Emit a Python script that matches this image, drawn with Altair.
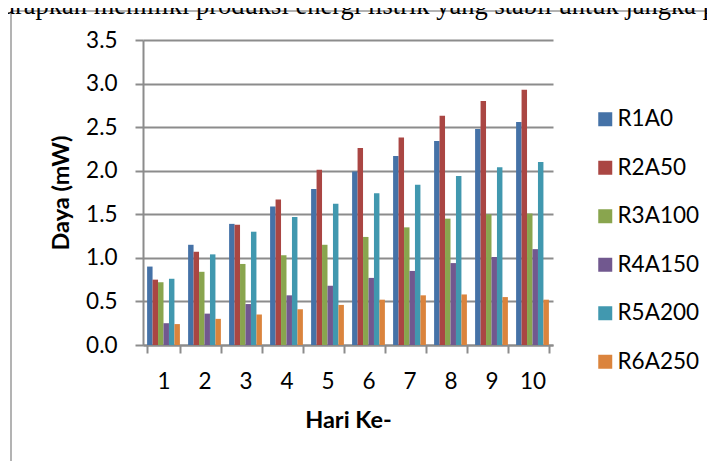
import altair as alt
import pandas as pd

days = ["1", "2", "3", "4", "5", "6", "7", "8", "9", "10"]
series = ["R1A0", "R2A50", "R3A100", "R4A150", "R5A200", "R6A250"]
R1A0 = [0.90, 1.15, 1.39, 1.59, 1.79, 1.99, 2.17, 2.34, 2.48, 2.56]
R2A50 = [0.75, 1.07, 1.38, 1.67, 2.01, 2.26, 2.38, 2.63, 2.80, 2.93]
R3A100 = [0.72, 0.84, 0.93, 1.03, 1.15, 1.24, 1.35, 1.45, 1.50, 1.51]
R4A150 = [0.25, 0.36, 0.47, 0.57, 0.68, 0.77, 0.85, 0.94, 1.01, 1.10]
R5A200 = [0.76, 1.04, 1.30, 1.47, 1.62, 1.74, 1.84, 1.94, 2.04, 2.10]
R6A250 = [0.24, 0.30, 0.35, 0.41, 0.46, 0.52, 0.57, 0.58, 0.55, 0.52]
colors = ["#4572A7", "#AA4643", "#89A54E", "#71588F", "#4198AF", "#DB843D"]
y_ticks = [0.0, 0.5, 1.0, 1.5, 2.0, 2.5, 3.0, 3.5]
top_text = "harapkan memiliki produksi energi listrik yang stabil untuk jangka p"

values = [R1A0, R2A50, R3A100, R4A150, R5A200, R6A250]
rows = []
for s, vals in zip(series, values):
    for d, v in zip(days, vals):
        rows.append({"day": d, "series": s, "value": v})
df = pd.DataFrame(rows)

FONT = "Lato"
GRAY = "#8c8c8c"
LBL = 22.5
TTL = 23.5

bars = alt.Chart(df).mark_bar().encode(
    x=alt.X("day:N", sort=days,
            scale=alt.Scale(paddingInner=0.2, paddingOuter=0.1),
            axis=alt.Axis(title="Hari Ke-", labelAngle=0, tickBand="extent", grid=False,
                          tickSize=8, labelPadding=17, labelFontSize=LBL, labelFont=FONT,
                          labelColor="black", titleFont=FONT, titleFontSize=TTL,
                          titleFontWeight="bold", titleColor="black",
                          titleX=205, titleY=82, titleBaseline="alphabetic", titleAlign="center")),
    xOffset=alt.XOffset("series:N", sort=series, scale=alt.Scale(paddingInner=0, paddingOuter=0)),
    y=alt.Y("value:Q", scale=alt.Scale(domain=[0, 3.5], nice=False),
            axis=alt.Axis(title="Daya (mW)", values=y_ticks, format=".1f", tickSize=8,
                          labelPadding=18, labelFontSize=LBL, labelFont=FONT, labelColor="black",
                          titleFont=FONT, titleFontSize=TTL, titleFontWeight="bold",
                          titleColor="black", titleX=-75, titleY=152.5,
                          titleBaseline="alphabetic", titleAlign="center")),
    color=alt.Color("series:N", sort=series,
                    scale=alt.Scale(domain=series, range=colors),
                    legend=alt.Legend(title=None, orient="none", legendX=451, legendY=68,
                                      symbolType="square", symbolSize=196, symbolStrokeWidth=0,
                                      labelFont=FONT, labelFontSize=LBL, labelColor="black",
                                      labelOffset=1, rowPadding=25.5, padding=0)),
)

one = pd.DataFrame({"a": [0]})
frame_v = alt.Chart(one).mark_rule(color="#9a9a9a", strokeWidth=1.5).encode(
    x=alt.value(-132), y=alt.value(-29), y2=alt.value(500))
frame_h = alt.Chart(one).mark_rule(color="#9a9a9a", strokeWidth=1.5).encode(
    x=alt.value(-132), x2=alt.value(700), y=alt.value(-29))
head = alt.Chart(pd.DataFrame({"t": [top_text]})).mark_text(
    align="left", baseline="alphabetic", font="Liberation Serif", fontSize=26.5,
    color="black").encode(x=alt.value(-153), y=alt.value(-26), text="t:N")

chart = alt.layer(frame_v, frame_h, head, bars).properties(
    width=410, height=305, autosize="none",
    padding={"left": 135, "top": 32, "right": 154, "bottom": 116},
).configure_view(stroke=None).configure_axis(
    domainColor=GRAY, domainWidth=2, tickColor=GRAY, tickWidth=2,
    gridColor=GRAY, gridWidth=2, gridOpacity=1,
)

chart.save("out.html", embed_options={"renderer": "svg", "actions": False})
